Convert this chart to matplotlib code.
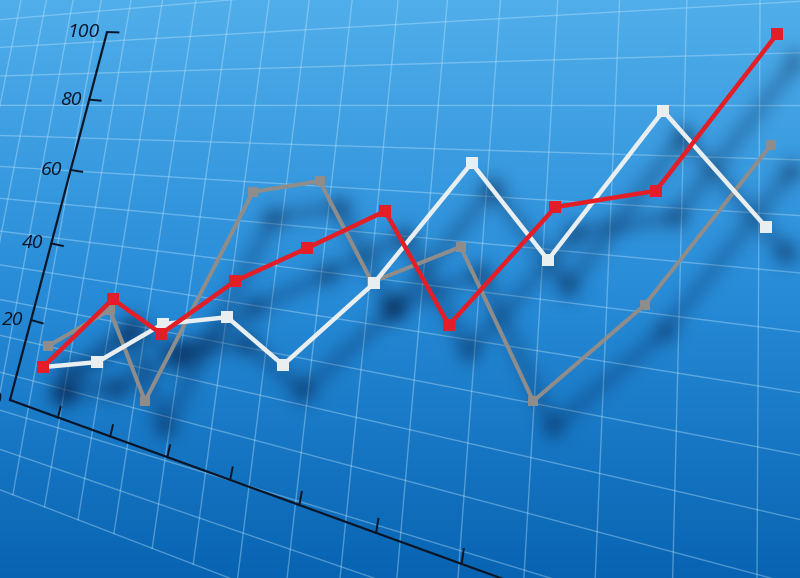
import numpy as np
import matplotlib
matplotlib.use("Agg")
import matplotlib.pyplot as plt
from matplotlib.transforms import ScaledTranslation

# values (x: position along the run, y: 0-100 scale)
red_x = [0, 0.95, 1.61, 2.62, 3.60, 4.66, 5.53, 6.98, 8.35, 10.0]
red_y = [7.7, 26.5, 16.9, 31.5, 40.6, 50.8, 19.3, 51.9, 56.4, 99.7]
white_x = [0, 0.74, 1.63, 2.51, 3.27, 4.51, 5.84, 6.88, 8.45, 9.85]
white_y = [7.7, 9.1, 19.6, 21.5, 8.3, 30.9, 64.1, 37.3, 78.5, 46.4]
gray_x = [0.07, 0.91, 1.39, 2.86, 3.77, 4.48, 5.69, 6.68, 8.20, 9.92]
gray_y = [13.5, 23.5, -1.7, 56.1, 59.1, 31.2, 40.9, -1.7, 24.9, 69.1]
y_ticks = [0, 20, 40, 60, 80, 100]
x_ticks = [1, 2, 3, 4, 5, 6, 7, 8]

W, H = 800, 578

# perspective of the axis plane (axis units -> pixels)
axis_m = np.array([[45.6, 1.089, 10.0],
                   [0.3, -3.644, 400.0],
                   [-0.041, 0.00111, 1.0]])

# perspective of the background grid (built from its two vanishing points)
a, b = -0.04035, -0.0121
grid_m = np.array([[a * -1000, b * 780, 546.0],
                   [a * 105, b * -3800, 200.0],
                   [a, b, 1.0]])


def project(m, u, v):
    u = np.atleast_1d(np.asarray(u, float))
    v = np.atleast_1d(np.asarray(v, float))
    if u.size == 1:
        u = np.full(v.shape, u[0])
    if v.size == 1:
        v = np.full(u.shape, v[0])
    x, y, w = m @ np.vstack([u, v, np.ones_like(u)])
    return x / w, y / w


SHADOW_RGB = np.array([2, 22, 60]) / 255


def soft_shadow(img, dpi, sigma=8.5):
    # blur only the alpha, paint it in the shadow colour
    r = int(3 * sigma)
    k = np.exp(-0.5 * (np.arange(-r, r + 1) / sigma) ** 2)
    k /= k.sum()
    alpha = np.pad(img[..., 3], r)
    tmp = np.zeros_like(alpha)
    for i, w in enumerate(k):
        tmp += w * np.roll(alpha, i - r, axis=0)
    blurred = np.zeros_like(alpha)
    for i, w in enumerate(k):
        blurred += w * np.roll(tmp, i - r, axis=1)
    out = np.empty(blurred.shape + (4,), dtype=img.dtype)
    out[..., :3] = SHADOW_RGB
    out[..., 3] = np.clip(blurred, 0, 1)
    return out, -r, -r


fig = plt.figure(figsize=(W / 100, H / 100), dpi=100)

# background, grid and axes in pixel space
bg = fig.add_axes([0, 0, 1, 1])
bg.set_xlim(0, W)
bg.set_ylim(H, 0)
bg.axis("off")

top = np.array([80, 174, 234]) / 255
mid = np.array([40, 140, 216]) / 255
bot = np.array([8, 100, 178]) / 255
yy = np.linspace(0, 1, H)[:, None]
col = np.where(yy < 0.5, top + (mid - top) * (yy / 0.5), mid + (bot - mid) * ((yy - 0.5) / 0.5))
grad = np.repeat(col[:, None, :], W, axis=1)
bg.imshow(grad, extent=(0, W, H, 0), aspect="auto", zorder=0)

grid_kw = dict(color=(0.78, 0.92, 1.0), alpha=0.36, lw=1.0, zorder=1)
jj = np.linspace(-8, 9, 60)
for i in range(-16, 6):
    gx, gy = project(grid_m, i, jj)
    bg.plot(gx, gy, **grid_kw)
ii = np.linspace(-16, 5, 60)
for j in range(-8, 10):
    gx, gy = project(grid_m, ii, j)
    bg.plot(gx, gy, **grid_kw)

axis_color = "#0a1628"
# y axis with ticks and labels
ax_x, ax_y = project(axis_m, 0, [0, 100])
bg.plot(ax_x, ax_y, color=axis_color, lw=1.6, zorder=3, solid_capstyle="butt")
for t in y_ticks:
    tx, ty = project(axis_m, [0, 0.25], t)
    if t > 0:
        bg.plot(tx, ty, color=axis_color, lw=1.4, zorder=3)
    bg.text(tx[0] - 8, ty[0], str(t), ha="right", va="center", fontsize=14,
            style="italic", family="Open Sans", color=axis_color, zorder=3)

# x axis with ticks
bx, by = project(axis_m, [0, 8.2], 0)
bg.plot(bx, by, color=axis_color, lw=1.6, zorder=3)
for s in x_ticks:
    tx, ty = project(axis_m, s, [0, 2.5])
    bg.plot(tx, ty, color=axis_color, lw=1.4, zorder=3)

# data lines in their own axes (0-100 scale)
ax = fig.add_axes([43 / W, 1 - 395 / H, (777 - 43) / W, (395 - 33) / H])
ax.set_xlim(0, 10)
ax.set_ylim(0, 100)
ax.axis("off")
ax.patch.set_alpha(0)

series = [
    (gray_x, gray_y, "#8f8d8b", 2.9, 7.4),
    (white_x, white_y, "#e9eef1", 3.2, 9.2),
    (red_x, red_y, "#e31e26", 3.2, 8.2),
]

shift = ScaledTranslation(20 / 100, -26 / 100, fig.dpi_scale_trans)
for xs, ys, c, lw, ms in series:
    sh, = ax.plot(xs, ys, color="k", lw=lw + 3.5, marker="s", ms=ms + 4,
                  alpha=0.45, transform=ax.transData + shift, clip_on=False, zorder=1)
    sh.set_agg_filter(soft_shadow)

for k, (xs, ys, c, lw, ms) in enumerate(series):
    ax.plot(xs, ys, color=c, lw=lw, marker="s", ms=ms, mec=c, mew=0,
            clip_on=False, zorder=3 + k)

fig.savefig("out.png", dpi=100)
